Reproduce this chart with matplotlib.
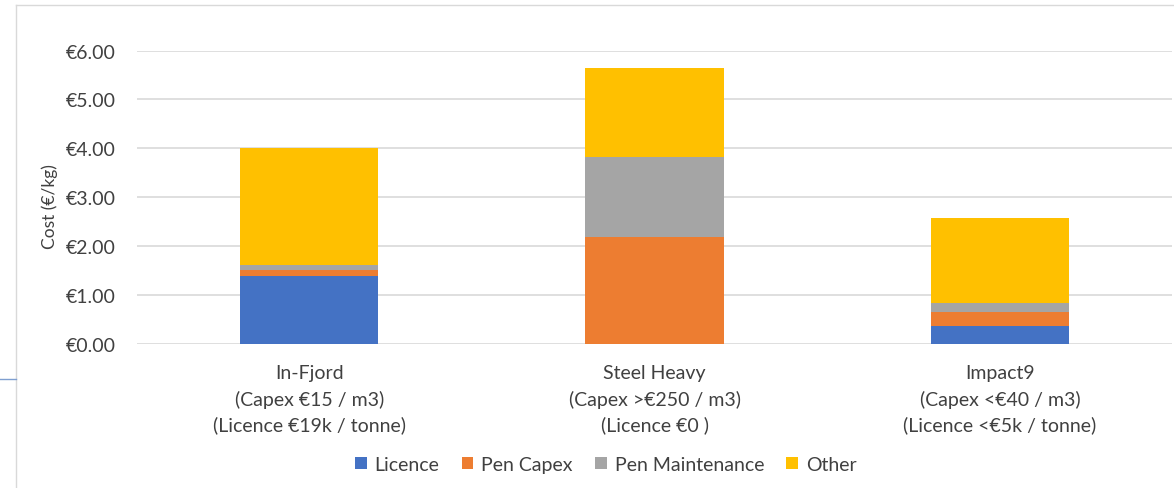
import matplotlib.pyplot as plt
from matplotlib.lines import Line2D
from matplotlib.patches import Patch

categories = [
    "In-Fjord\n(Capex €15 / m3)\n(Licence €19k / tonne)",
    "Steel Heavy\n(Capex >€250 / m3)\n(Licence €0 )",
    "Impact9\n(Capex <€40 / m3)\n(Licence <€5k / tonne)",
]
series_names = ["Licence", "Pen Capex", "Pen Maintenance", "Other"]
licence = [1.38, 0.0, 0.36]
pen_capex = [0.13, 2.18, 0.28]
pen_maintenance = [0.10, 1.65, 0.19]
other = [2.39, 1.81, 1.74]
y_ticks = [0, 1, 2, 3, 4, 5, 6]

colors = ["#4472C4", "#ED7D31", "#A5A5A5", "#FFC000"]
text_color = "#404040"

plt.rcParams["font.family"] = ["Lato", "DejaVu Sans"]

fig = plt.figure(figsize=(11.74, 4.89), dpi=100)
ax = fig.add_axes([0.1163, 0.2955, 0.8824, 0.5988])

x = list(range(len(categories)))
bottom = [0.0] * len(categories)
for name, vals, c in zip(series_names, [licence, pen_capex, pen_maintenance, other], colors):
    ax.bar(x, vals, width=0.4, bottom=bottom, color=c, label=name, zorder=3)
    bottom = [b + v for b, v in zip(bottom, vals)]

ax.set_xlim(-0.5, len(categories) - 0.5)
ax.set_ylim(0, 6)
ax.set_yticks(y_ticks)
ax.set_yticklabels([f"€{t:.2f}" for t in y_ticks])
ax.set_xticks(x)
ax.set_xticklabels(categories, linespacing=1.54)
ax.grid(axis="y", color="#D9D9D9", linewidth=1.2, zorder=0)
for s in ax.spines.values():
    s.set_visible(False)
ax.tick_params(axis="both", length=0, colors=text_color, labelsize=14)
ax.tick_params(axis="y", pad=15)
ax.tick_params(axis="x", pad=15)
ax.set_ylabel("Cost (€/kg)", fontsize=12.5, color=text_color)
ax.yaxis.set_label_coords(-0.076, 0.47)

handles = [Patch(facecolor=c, label=n) for n, c in zip(series_names, colors)]
leg = fig.legend(handles=handles, loc="center", bbox_to_anchor=(0.516, 0.049), ncol=4,
                 frameon=False, fontsize=14, handlelength=0.6, handleheight=0.6,
                 handletextpad=0.4, columnspacing=1.15)
for t in leg.get_texts():
    t.set_color(text_color)

# chart area frame (partially visible) and stray line on the left
fig.add_artist(Line2D([16 / 1174, 16 / 1174], [0, 1 - 6 / 489], color="#D9D9D9", linewidth=1))
fig.add_artist(Line2D([16 / 1174, 1], [1 - 6 / 489, 1 - 6 / 489], color="#D9D9D9", linewidth=1))
fig.add_artist(Line2D([0, 16 / 1174], [1 - 380 / 489, 1 - 380 / 489], color="#7F9FD0", linewidth=1))

fig.savefig("out.png", dpi=100)
